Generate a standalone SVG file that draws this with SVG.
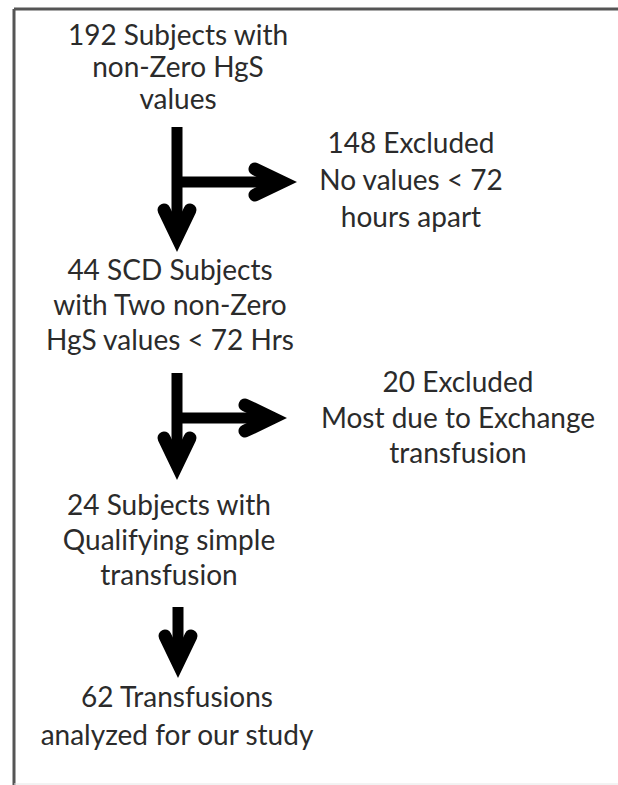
<svg xmlns="http://www.w3.org/2000/svg" width="618" height="785" viewBox="0 0 618 785">
<style>
.t{font-family:Lato,"Liberation Sans",sans-serif;font-size:28px;fill:#2b2b2b;text-anchor:middle}
.shaft{stroke:#000;stroke-width:11;fill:none;stroke-linecap:butt}
.head{stroke:#000;stroke-width:13;fill:none;stroke-linecap:round;stroke-linejoin:miter;stroke-miterlimit:10}
</style>
<rect width="618" height="785" fill="#fff"/>
<g id="frame">
<line x1="14" y1="9" x2="618" y2="9" stroke="#555" stroke-width="3"/>
<line x1="14" y1="9" x2="14" y2="785" stroke="#555" stroke-width="3"/>
<line x1="14" y1="784" x2="618" y2="784" stroke="#e6e6e6" stroke-width="1"/>
</g>
<g id="connectors">
<line class="shaft" x1="177" y1="127" x2="177" y2="238"/>
<polyline class="head" points="164,210 177,237 190,210"/>
<line class="shaft" x1="177" y1="182" x2="281" y2="182"/>
<polyline class="head" points="255,169 282,182 255,195"/>
<line class="shaft" x1="177" y1="373" x2="177" y2="466"/>
<polyline class="head" points="164,438 177,465 190,438"/>
<line class="shaft" x1="177" y1="418" x2="271" y2="418"/>
<polyline class="head" points="245,405 272,418 245,431"/>
<line class="shaft" x1="178" y1="607" x2="178" y2="664"/>
<polyline class="head" points="165,636 178,663 191,636"/>
</g>
<g id="n1"><text class="t" x="178" y="45">192 Subjects with</text><text class="t" x="178" y="77">non-Zero HgS</text><text class="t" x="178" y="109">values</text></g>
<g id="n2"><text class="t" x="411" y="153">148 Excluded</text><text class="t" x="411" y="190">No values &lt; 72</text><text class="t" x="411" y="227">hours apart</text></g>
<g id="n3"><text class="t" x="170" y="280">44 SCD Subjects</text><text class="t" x="170" y="315">with Two non-Zero</text><text class="t" x="170" y="350">HgS values &lt; 72 Hrs</text></g>
<g id="n4"><text class="t" x="458" y="392">20 Excluded</text><text class="t" x="458" y="428">Most due to Exchange</text><text class="t" x="458" y="463">transfusion</text></g>
<g id="n5"><text class="t" x="169" y="515">24 Subjects with</text><text class="t" x="169" y="550">Qualifying simple</text><text class="t" x="169" y="585">transfusion</text></g>
<g id="n6"><text class="t" x="177" y="707">62 Transfusions</text><text class="t" x="177" y="745">analyzed for our study</text></g>
</svg>
